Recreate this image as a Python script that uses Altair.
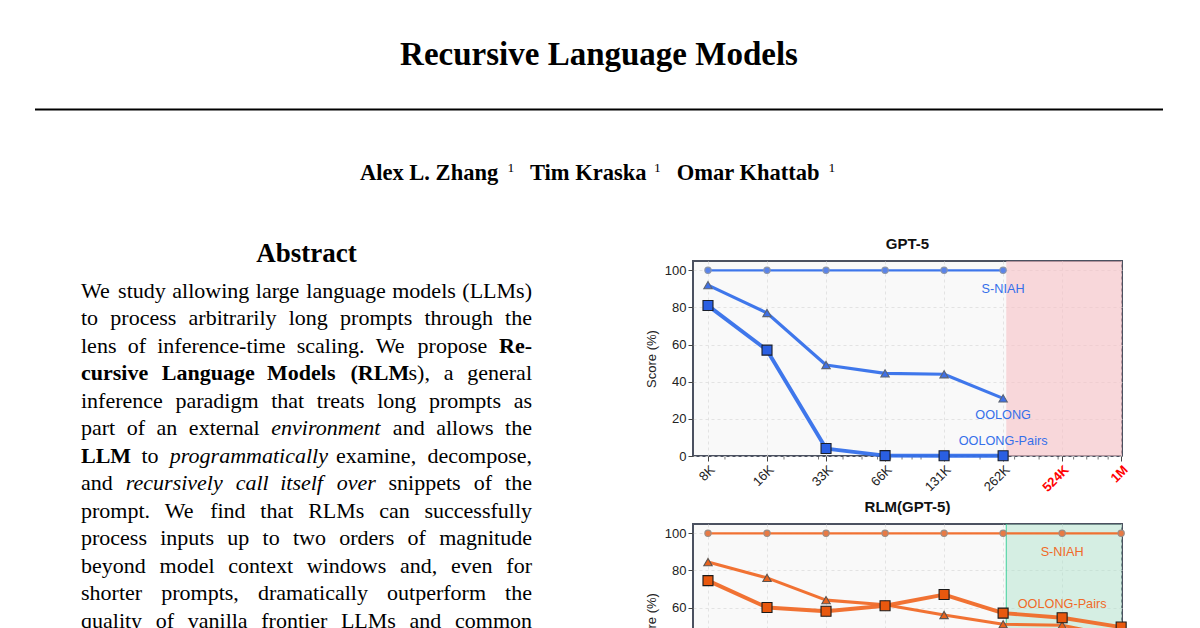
import altair as alt
import pandas as pd

SERIF = "Liberation Serif"
SANS = "Liberation Sans"

# ---- page text ----
TITLE = "Recursive Language Models"
AUTHORS = ["Alex L. Zhang", "Tim Kraska", "Omar Khattab"]
AFFILIATIONS = ["1", "1", "1"]
ABSTRACT_HEADING = "Abstract"
# plain strings are regular text; lists hold (text, style) runs: n=normal, b=bold, i=italic
ABSTRACT_LINES = [
    "We study allowing large language models (LLMs)",
    "to process arbitrarily long prompts through the",
    [("lens of inference-time scaling.  We propose ", "n"), ("Re-", "b")],
    [("cursive Language Models (RLM", "b"), ("s), a general", "n")],
    "inference paradigm that treats long prompts as",
    [("part of an external ", "n"), ("environment", "i"), (" and allows the", "n")],
    [("LLM", "b"), (" to ", "n"), ("programmatically", "i"), (" examine, decompose,", "n")],
    [("and ", "n"), ("recursively call itself over", "i"), (" snippets of the", "n")],
    "prompt.  We find that RLMs can successfully",
    "process inputs up to two orders of magnitude",
    "beyond model context windows and, even for",
    "shorter prompts, dramatically outperform the",
    "quality of vanilla frontier LLMs and common",
]

# ---- chart data ----
CONTEXT_LABELS = ["8K", "16K", "33K", "66K", "131K", "262K", "524K", "1M"]
CONTEXT_TOKENS = [8192, 16384, 32768, 65536, 131072, 262144, 524288, 1048576]
MINOR_TICKS = [10000, 20000, 30000, 40000, 50000, 60000, 70000, 80000, 90000,
               100000, 200000, 300000, 400000, 500000, 600000, 700000, 800000, 900000]
SERIES = ["S-NIAH", "OOLONG", "OOLONG-Pairs"]
SCORE_TICKS = [0, 20, 40, 60, 80, 100]

GPT5_SNIAH = [100, 100, 100, 100, 100, 100]
GPT5_OOLONG = [92, 77, 49, 44.5, 44, 31]
GPT5_PAIRS = [81, 57, 4, 0.2, 0.1, 0.1]

RLM_SNIAH = [100, 100, 100, 100, 100, 100, 100, 100]
RLM_OOLONG = [84.5, 76, 64, 61.5, 56, 51, 50.5, 44]
RLM_PAIRS = [74.5, 60, 58, 61, 67, 57, 54.5, 49.5]

GPT5_CONTEXT_LIMIT = 272000

GPT5_LABELS = ["S-NIAH", "OOLONG", "OOLONG-Pairs"]
GPT5_LABEL_SCORE = [90, 22, 8]
RLM_LABELS = ["S-NIAH", "OOLONG-Pairs"]
RLM_LABEL_SCORE = [90, 62]

# ---- layout (page pixels) ----
STYLE = {"n": ("normal", "normal"), "b": ("bold", "normal"), "i": ("normal", "italic")}
STYLE_WIDTH = {"n": 1.0, "b": 1.055, "i": 0.99}
COL_LEFT, COL_RIGHT = 81, 532
TEXT_SIZE = 22
LINE_Y0, LINE_STEP = 297.5, 27.5
PLOT_W, PLOT_H = 429, 195

BLUE = "#3570ea"
ORANGE = "#f06a28"

# Times advance widths (em), used to justify the abstract lines
TIMES = {}
for chars, w in [(" ,.", 250), ("ijlt:;", 278), ("()-frI", 333), ("sJ", 389), ("acez", 444),
                 ("bdghknopquvxy0123456789", 500), ("FPS", 556), ("ELTZ", 611), ("BCR", 667),
                 ("wADGHKNOQUVXY", 722), ("m", 778), ("M", 889), ("W", 944)]:
    for c in chars:
        TIMES[c] = w / 1000


def header_rows():
    rows = [dict(x=599, y=65, text=TITLE, size=33, weight="bold", style="normal", align="center")]
    for name, sup, nx, sx in zip(AUTHORS, AFFILIATIONS, [360, 530, 676.7], [507.5, 654, 828.5]):
        rows.append(dict(x=nx, y=180, text=name, size=22.5, weight="bold", style="normal", align="left"))
        rows.append(dict(x=sx, y=172, text=sup, size=13.5, weight="normal", style="normal", align="left"))
    rows.append(dict(x=306.5, y=261.5, text=ABSTRACT_HEADING, size=27, weight="bold",
                     style="normal", align="center"))
    return rows


def split_words(runs):
    words, attach = [], False
    for text, st in runs:
        for k, part in enumerate(text.split(" ")):
            if k > 0:
                attach = False
            if not part:
                continue
            if attach and words:
                words[-1].append((part, st))
            else:
                words.append([(part, st)])
        attach = not text.endswith(" ")
    return words


def frag_width(text, st):
    return sum(TIMES.get(c, 0.5) for c in text) * TEXT_SIZE * STYLE_WIDTH[st]


def abstract_rows():
    rows = []
    for i, line in enumerate(ABSTRACT_LINES):
        runs = [(line, "n")] if isinstance(line, str) else line
        words = split_words(runs)
        widths = [sum(frag_width(t, s) for t, s in w) for w in words]
        gap = (COL_RIGHT - COL_LEFT - sum(widths)) / (len(words) - 1)
        y, x = LINE_Y0 + i * LINE_STEP, COL_LEFT
        for k, (word, wd) in enumerate(zip(words, widths)):
            fx = x
            for text, st in word:
                weight, style = STYLE[st]
                last = k == len(words) - 1 and len(word) == 1
                rows.append(dict(x=COL_RIGHT if last else fx, y=y, text=text, size=TEXT_SIZE,
                                 weight=weight, style=style, align="right" if last else "left"))
                fx += frag_width(text, st)
            x += wd + gap
    return rows


def page_view(rows, x_domain, y_domain, rules=None):
    df = pd.DataFrame(rows)
    x = alt.X("x:Q", scale=alt.Scale(domain=x_domain, nice=False, zero=False), axis=None)
    y = alt.Y("y:Q", scale=alt.Scale(domain=y_domain, nice=False, zero=False, reverse=True), axis=None)
    layers = []
    for (weight, style, align), part in df.groupby(["weight", "style", "align"]):
        layers.append(alt.Chart(part).mark_text(
            font=SERIF, fontWeight=weight, fontStyle=style, align=align,
            baseline="alphabetic", color="#000000",
        ).encode(x=x, y=y, text="text:N", size=alt.Size("size:Q", scale=None)))
    if rules is not None:
        layers.append(alt.Chart(pd.DataFrame(rules)).mark_rule(color="#000000", strokeWidth=2).encode(
            x=x, x2="x2:Q", y=y))
    return alt.layer(*layers).properties(
        width=x_domain[1] - x_domain[0], height=y_domain[1] - y_domain[0])


def long_frame(series_values):
    rows = []
    for name, vals in zip(SERIES, series_values):
        for tok, v in zip(CONTEXT_TOKENS, vals):
            rows.append({"tokens": tok, "score": v, "series": name})
    return pd.DataFrame(rows)


LABEL_EXPR = "[{}][indexof([{}], datum.value)]".format(
    ",".join(f"'{l}'" for l in CONTEXT_LABELS), ",".join(str(t) for t in CONTEXT_TOKENS))
RED_TEST = "datum.value > 300000"


def score_chart(title, series_values, color, fills, edges, region_fill, labels, label_score,
                label_at, edge=None):
    x = alt.X("tokens:Q", title=None,
              scale=alt.Scale(type="log", base=2, domain=[6870, 1059000], nice=False),
              axis=alt.Axis(values=CONTEXT_TOKENS, labelExpr=LABEL_EXPR, labelAngle=-45,
                            labelFontSize=13, labelFont=SANS, labelOverlap=False,
                            labelColor={"condition": {"test": RED_TEST, "value": "#ff0000"},
                                        "value": "#222222"},
                            labelFontWeight={"condition": {"test": RED_TEST, "value": "bold"},
                                             "value": "normal"},
                            domain=False, tickSize=5, tickColor="#444444",
                            gridColor="#dddddd", gridDash=[3, 3], gridWidth=0.8))
    y = alt.Y("score:Q", title="Score (%)",
              scale=alt.Scale(domain=[0, 105], nice=False, zero=True),
              axis=alt.Axis(values=SCORE_TICKS, tickCount=6, labelFontSize=13, labelFont=SANS,
                            labelColor="#222222", labelOverlap=False, titleFont=SANS,
                            titleFontSize=13, titleFontWeight="normal", titleColor="#222222",
                            titlePadding=6, domain=False, tickSize=5, tickColor="#444444",
                            gridColor="#dddddd", gridDash=[3, 3], gridWidth=0.8))
    df = long_frame(series_values)
    limit = pd.DataFrame({"tokens": [GPT5_CONTEXT_LIMIT]})
    layers = [alt.Chart(limit).mark_rect(color=region_fill[0], opacity=region_fill[1]).encode(
        x2=alt.value(PLOT_W), y=alt.value(0), y2=alt.value(PLOT_H))]
    if edge:
        layers.append(alt.Chart(limit).mark_rule(color=edge, strokeWidth=1).encode(
            y=alt.value(0), y2=alt.value(PLOT_H)))
    minor = alt.Chart(pd.DataFrame({"tokens": MINOR_TICKS})).mark_rule(
        color="#555555", strokeWidth=0.8).encode(y=alt.value(PLOT_H + 1), y2=alt.value(PLOT_H + 3.5))
    lines = alt.Chart(df).mark_line(color=color, opacity=0.95, strokeJoin="round").encode(
        strokeWidth=alt.StrokeWidth("series:N", scale=alt.Scale(domain=SERIES, range=[2.3, 3.9, 5.6]),
                                    legend=None),
    )
    points = alt.Chart(df).mark_point(filled=True, opacity=1, strokeWidth=1.1).encode(
        shape=alt.Shape("series:N", scale=alt.Scale(domain=SERIES, range=["circle", "triangle-up", "square"]),
                        legend=None),
        size=alt.Size("series:N", scale=alt.Scale(domain=SERIES, range=[40, 100, 125]), legend=None),
        fill=alt.Fill("series:N", scale=alt.Scale(domain=SERIES, range=fills), legend=None),
        stroke=alt.Stroke("series:N", scale=alt.Scale(domain=SERIES, range=edges), legend=None),
    )
    text = alt.Chart(pd.DataFrame({"tokens": [label_at] * len(labels), "score": label_score,
                                   "label": labels})).mark_text(
        font=SANS, fontSize=12.7, color=color, align="center", baseline="middle"
    ).encode(text="label:N")
    layers += [minor, lines, points, text]
    return alt.layer(*layers).encode(x=x, y=y).properties(
        width=PLOT_W, height=PLOT_H,
        title=alt.Title(title, font=SANS, fontSize=15, fontWeight="bold", color="#111111", offset=9),
        view=alt.ViewBackground(fill="#f9f9f9", stroke="#4b5160", strokeWidth=2),
    )


header = page_view(header_rows(), [8, 1192], [8, 261],
                   rules={"x": [35], "x2": [1163], "y": [109.5]})
abstract = page_view(abstract_rows(), [8, 608], [261, 628])

gpt5 = score_chart("GPT-5", [GPT5_SNIAH, GPT5_OOLONG, GPT5_PAIRS], BLUE,
                   ["#5a84ea", "#3f70e6", "#2a5fe2"], ["#8d96a8", "#5d6574", "#1a1f2a"],
                   ("#f6c0c5", 0.6), GPT5_LABELS, GPT5_LABEL_SCORE, 262144)
rlm = score_chart("RLM(GPT-5)", [RLM_SNIAH, RLM_OOLONG, RLM_PAIRS], ORANGE,
                  ["#e87a45", "#e8621c", "#e8580e"], ["#9a8f88", "#5d5550", "#1a1a1a"],
                  ("#a8e0c8", 0.45), RLM_LABELS, RLM_LABEL_SCORE, 524288, edge="#3ecf9a")

charts = alt.vconcat(gpt5, rlm, spacing=68, bounds="flush").resolve_scale(
    fill="independent", stroke="independent")
lower = alt.hconcat(abstract, charts, spacing=85, bounds="flush")
chart = alt.vconcat(header, lower, spacing=0, bounds="flush").properties(
    padding=0, background="white"
).configure_view(strokeWidth=0).configure_axis(labelOverlap=False)

chart.save("out.html", embed_options={"renderer": "svg", "actions": False})
